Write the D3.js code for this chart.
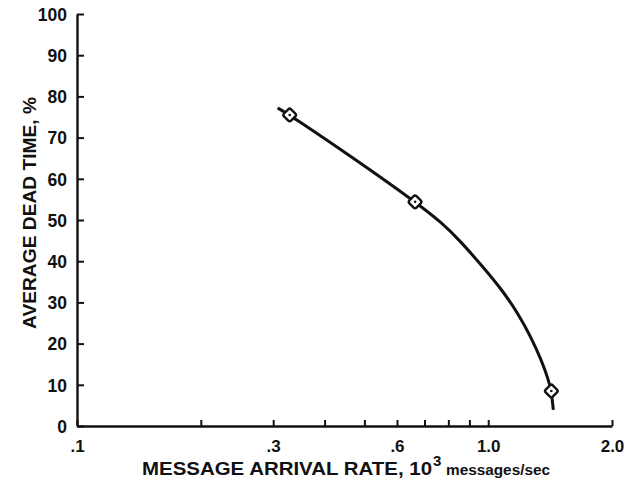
<!DOCTYPE html>
<html>
<head>
<meta charset="utf-8">
<script src="https://cdnjs.cloudflare.com/ajax/libs/d3/7.8.5/d3.min.js"></script>
<style>
  body { margin: 0; background: #fff; }
  text { font-family: "Liberation Sans", Arial, sans-serif; font-weight: bold; fill: #111; }
</style>
</head>
<body>
<script>
// measured points (diamonds)
var rate = [0.329, 0.664, 1.424];
var deadTime = [75.5, 54.4, 8.5];

// faired curve
var curveRate = [0.3075, 0.329, 0.490, 0.664, 0.768, 0.859, 0.961, 1.076, 1.184, 1.273, 1.347, 1.401, 1.424, 1.440];
var curveDead = [77.2, 75.5, 63.8, 54.4, 49.5, 44.7, 39.1, 33.3, 27.2, 21.4, 16.0, 11.2, 8.5, 3.9];

var xTicks = [0.1, 0.2, 0.3, 0.4, 0.5, 0.6, 0.7, 0.8, 0.9, 1.0, 2.0];
var xLabels = {0.1: '.1', 0.3: '.3', 0.6: '.6', 1.0: '1.0', 2.0: '2.0'};
var yTicks = d3.range(0, 101, 10);

var width = 624, height = 483;

var svg = d3.select('body').append('svg')
    .attr('width', width)
    .attr('height', height);

var x = d3.scaleLog().domain([0.1, 2.0]).range([77, 612]);
var y = d3.scaleLinear().domain([0, 100]).range([426, 14]);

// axes
var xAxis = d3.axisBottom(x)
    .tickValues(xTicks)
    .tickSize(-6)
    .tickSizeOuter(0)
    .tickPadding(14)
    .tickFormat(function (d) { return xLabels[d] || ''; });

var gx = svg.append('g')
    .attr('transform', 'translate(0,' + y(0) + ')')
    .call(xAxis);

var yAxis = d3.axisLeft(y)
    .tickValues(yTicks)
    .tickSize(-7)
    .tickSizeOuter(0)
    .tickPadding(10);

var gy = svg.append('g')
    .attr('transform', 'translate(' + x(0.1) + ',0)')
    .call(yAxis);

svg.selectAll('.domain').attr('stroke', '#111').attr('stroke-width', 2.4);
svg.selectAll('.tick line').attr('stroke', '#111').attr('stroke-width', 2);
svg.selectAll('.tick text').attr('font-family', null).attr('font-size', null).attr('fill', '#111');
gx.selectAll('.tick text').style('font-size', '17px');
gy.selectAll('.tick text').style('font-size', '17.5px').attr('dy', '0.36em');

// axis titles
svg.append('text')
    .attr('transform', 'translate(36,213) rotate(-90)')
    .attr('text-anchor', 'middle')
    .attr('textLength', 232)
    .attr('lengthAdjust', 'spacingAndGlyphs')
    .style('font-size', '19px')
    .text('AVERAGE DEAD TIME, %');

svg.append('text')
    .attr('x', 142)
    .attr('y', 475)
    .attr('textLength', 290)
    .attr('lengthAdjust', 'spacingAndGlyphs')
    .style('font-size', '18.5px')
    .text('MESSAGE ARRIVAL RATE, 10');

svg.append('text')
    .attr('x', 433)
    .attr('y', 466)
    .style('font-size', '15px')
    .text('3');

svg.append('text')
    .attr('x', 446)
    .attr('y', 475)
    .attr('textLength', 104)
    .attr('lengthAdjust', 'spacingAndGlyphs')
    .style('font-size', '14.5px')
    .text('messages/sec');

// curve
var line = d3.line()
    .x(function (d) { return x(d[0]); })
    .y(function (d) { return y(d[1]); })
    .curve(d3.curveBasis);

svg.append('path')
    .datum(d3.zip(curveRate, curveDead))
    .attr('d', line)
    .attr('fill', 'none')
    .attr('stroke', '#111')
    .attr('stroke-width', 3);

// diamond markers
var pts = svg.selectAll('.pt')
    .data(d3.zip(rate, deadTime))
    .enter()
    .append('g')
    .attr('class', 'pt')
    .attr('transform', function (d) { return 'translate(' + x(d[0]) + ',' + y(d[1]) + ')'; });

pts.append('rect')
    .attr('x', -5).attr('y', -5)
    .attr('width', 10).attr('height', 10)
    .attr('rx', 2)
    .attr('transform', 'rotate(45)')
    .attr('fill', '#fff')
    .attr('stroke', '#111')
    .attr('stroke-width', 2.4);

pts.append('circle')
    .attr('r', 1.3)
    .attr('fill', '#111');
</script>
</body>
</html>
